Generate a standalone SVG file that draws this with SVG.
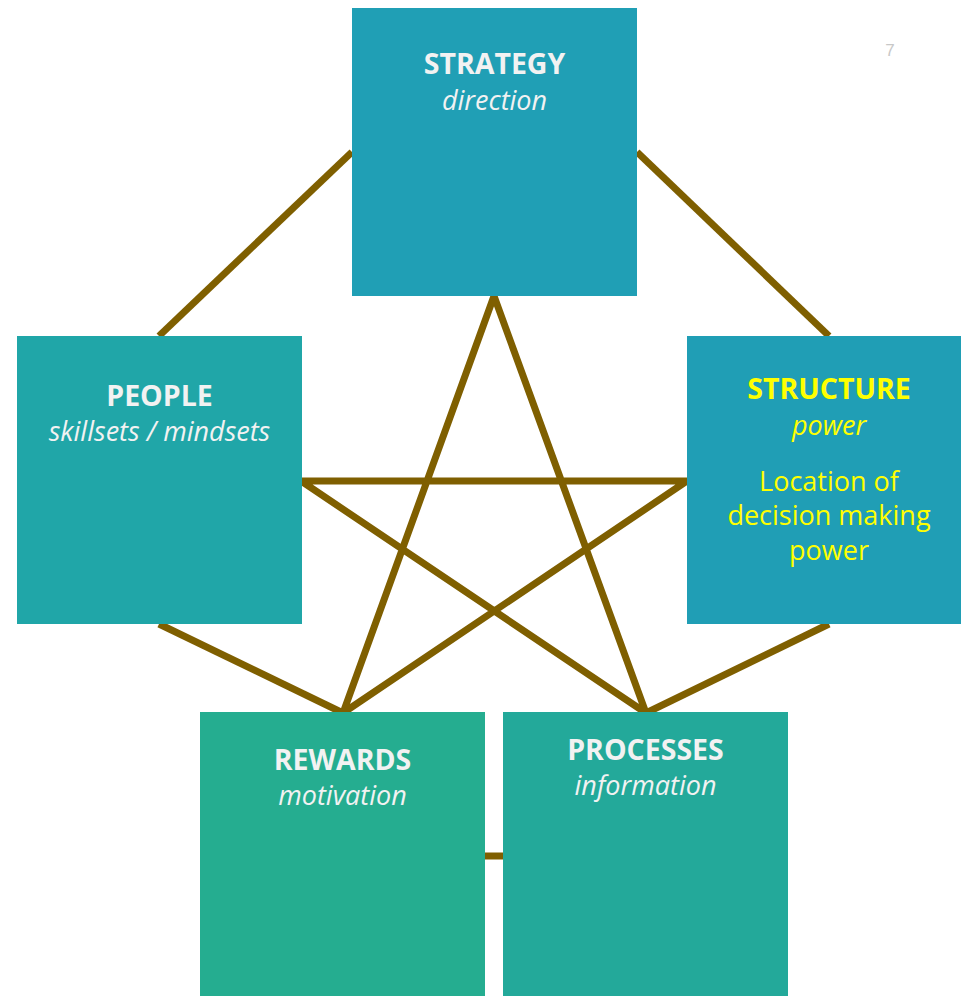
<svg xmlns="http://www.w3.org/2000/svg" width="961" height="996" viewBox="0 0 961 996">
<style>
.t{font-family:"Open Sans","Noto Sans","Liberation Sans",sans-serif;text-anchor:middle;fill:#F2F2F2}
.h{font-weight:bold;font-size:28.5px}
.i{font-style:italic;font-size:27px}
.y{fill:#FFFF00}
.r{font-size:27px}
.c{stroke:#7F5F00;stroke-width:7;fill:none;stroke-linecap:butt;stroke-linejoin:miter}
</style>
<rect width="961" height="996" fill="#FFFFFF"/>
<g id="connectors">
<line class="c" x1="352" y1="152" x2="159" y2="336"/>
<line class="c" x1="637" y1="152" x2="829" y2="336"/>
<line class="c" x1="159" y1="624" x2="343" y2="713"/>
<line class="c" x1="829" y1="624" x2="646" y2="713"/>
<line class="c" x1="485" y1="856" x2="503" y2="856"/>
<polyline class="c" points="494,296 343,713 687,481 301,481 646,713 494,296"/>
</g>
<g id="strategy">
<rect x="352" y="8" width="285" height="288" fill="#209FB5"/>
<text class="t h" x="494.5" y="74">STRATEGY</text>
<text class="t i" x="494.5" y="110">direction</text>
</g>
<g id="people">
<rect x="17" y="336" width="285" height="288" fill="#20A6A8"/>
<text class="t h" x="159.5" y="406">PEOPLE</text>
<text class="t i" x="159.5" y="441">skillsets / mindsets</text>
</g>
<g id="structure">
<rect x="687" y="336" width="285" height="288" fill="#209EB5"/>
<text class="t h y" x="829" y="399">STRUCTURE</text>
<text class="t i y" x="829" y="435">power</text>
<text class="t r y" x="829" y="491">Location of</text>
<text class="t r y" x="829" y="525">decision making</text>
<text class="t r y" x="829" y="560">power</text>
</g>
<g id="rewards">
<rect x="200" y="712" width="285" height="284" fill="#25AD90"/>
<text class="t h" x="342.5" y="770">REWARDS</text>
<text class="t i" x="342.5" y="805">motivation</text>
</g>
<g id="processes">
<rect x="503" y="712" width="285" height="284" fill="#23A99A"/>
<text class="t h" x="645.5" y="760">PROCESSES</text>
<text class="t i" x="645.5" y="795">information</text>
</g>
<text x="890" y="56" font-family="Liberation Sans, sans-serif" font-size="17" fill="#C8C8C8" text-anchor="middle">7</text>
</svg>
